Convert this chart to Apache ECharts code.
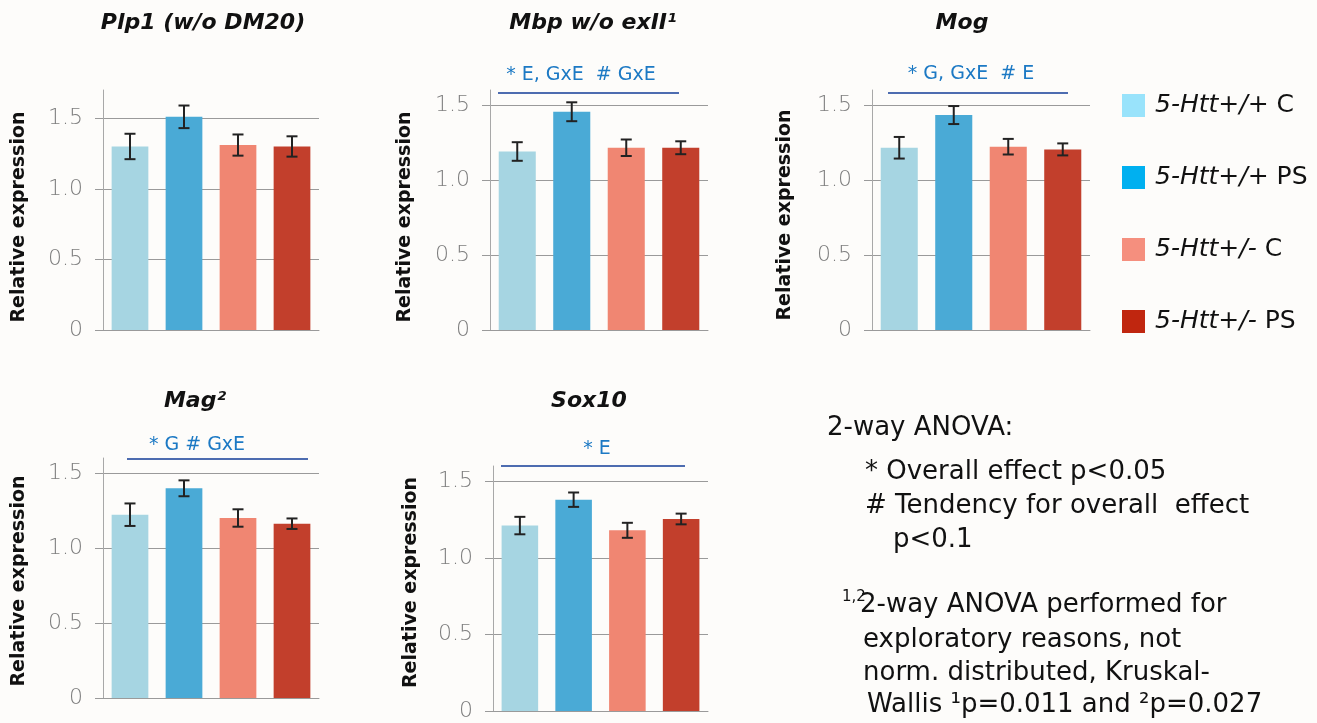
<!DOCTYPE html>
<html>
<head>
<meta charset="utf-8">
<script src="https://cdn.jsdelivr.net/npm/echarts@6/dist/echarts.min.js"></script>
<style>
  html, body { margin: 0; padding: 0; background: #fdfcfa; }
  #main { width: 1317px; height: 723px; }
</style>
</head>
<body>
<div id="main"></div>
<script>
// groups (legend + categories)
const groups = ['5-Htt+/+ C', '5-Htt+/+ PS', '5-Htt+/- C', '5-Htt+/- PS'];
const genes = ['Plp1 (w/o DM20)', 'Mbp w/o exII¹', 'Mog', 'Mag²', 'Sox10'];

// means and error (SEM)
const plp1Mean = [1.30, 1.51, 1.31, 1.30];
const plp1Err = [0.09, 0.08, 0.075, 0.072];
const mbpMean = [1.19, 1.455, 1.215, 1.215];
const mbpErr = [0.062, 0.063, 0.055, 0.043];
const mogMean = [1.215, 1.433, 1.222, 1.204];
const mogErr = [0.072, 0.06, 0.052, 0.04];
const magMean = [1.222, 1.398, 1.20, 1.162];
const magErr = [0.075, 0.053, 0.058, 0.035];
const sox10Mean = [1.211, 1.38, 1.18, 1.254];
const sox10Err = [0.057, 0.047, 0.049, 0.035];

const yTicks = [0, 0.5, 1.0, 1.5];
const yMax = [1.7, 1.6, 1.6, 1.6, 1.6];
const anovaMarks = ['', '* E, GxE  # GxE', '* G, GxE  # E', '* G # GxE', '* E'];

const means = [plp1Mean, mbpMean, mogMean, magMean, sox10Mean];
const errs = [plp1Err, mbpErr, mogErr, magErr, sox10Err];

const barColors = ['#a6d5e2', '#4aaad6', '#f08672', '#c23f2c'];
const legendColors = ['#99e3fb', '#00b0f0', '#f58f7e', '#c0260f'];

// panel layout (px)
const grids = [
  {left: 103, top: 90, width: 216, height: 240},
  {left: 490, top: 90, width: 218, height: 240},
  {left: 872, top: 90, width: 218, height: 240},
  {left: 103, top: 458, width: 216, height: 240},
  {left: 493, top: 466, width: 215, height: 245}
];
const nameGaps = [74, 75, 77, 74, 72];
const namePads = [[0, 14, 0, 0], [0, 14, 0, 0], [0, 10, 0, 0], [0, 6, 0, 0], [0, 0, 0, 12]];
const titlePos = [[203, 23], [593, 23], [962, 23], [195, 401], [589, 401]];
const markPos = [null, [581, 75, 498, 679, 93], [971, 74, 888, 1068, 93], [197, 445, 127, 308, 459], [597, 449, 501, 685, 466]];

const plainFont = '"DejaVu Sans", sans-serif';

let chartDom = document.getElementById('main');
let myChart = echarts.init(chartDom);

let series = [];
let xAxes = [];
let yAxes = [];
let graphics = [];

genes.forEach((gene, k) => {
  xAxes.push({
    type: 'category', gridIndex: k, data: groups,
    axisLabel: {show: false}, axisTick: {show: false},
    axisLine: {show: true, lineStyle: {color: '#9a9a9a', width: 1}}
  });
  yAxes.push({
    type: 'value', gridIndex: k, min: 0, max: yMax[k], interval: 0.5,
    name: 'Relative expression', nameLocation: 'middle', nameGap: nameGaps[k],
    nameTextStyle: {fontFamily: plainFont, fontWeight: 'bold', fontSize: 19, color: '#111',
      padding: namePads[k]},
    axisLine: {show: true, lineStyle: {color: '#a8a8a8', width: 1}},
    axisTick: {show: true, length: 8, customValues: yTicks, lineStyle: {color: '#9a9a9a'}},
    axisLabel: {
      customValues: yTicks, margin: 20, fontFamily: plainFont, fontWeight: 200,
      fontSize: 22, color: '#7e7e7e',
      formatter: v => (yTicks.indexOf(v) < 0 ? '' : (v === 0 ? '0' : v.toFixed(1)))
    },
    splitLine: {show: true, lineStyle: {color: '#9a9a9a', width: 1}}
  });

  groups.forEach((g, j) => {
    series.push({
      name: g, type: 'bar', xAxisIndex: k, yAxisIndex: k,
      barWidth: '68%', barGap: '-100%',
      itemStyle: {color: barColors[j]},
      data: groups.map((_, i) => (i === j ? means[k][i] : '-')),
      silent: true
    });
  });

  series.push({
    type: 'custom', xAxisIndex: k, yAxisIndex: k, z: 10, silent: true,
    data: means[k].map((m, i) => [i, m - errs[k][i], m + errs[k][i]]),
    renderItem: (params, api) => {
      const lo = api.coord([api.value(0), api.value(1)]);
      const hi = api.coord([api.value(0), api.value(2)]);
      const cap = 5.5;
      const st = {stroke: '#222', lineWidth: 2};
      return {
        type: 'group',
        children: [
          {type: 'line', shape: {x1: lo[0], y1: lo[1], x2: hi[0], y2: hi[1]}, style: st},
          {type: 'line', shape: {x1: lo[0] - cap, y1: lo[1], x2: lo[0] + cap, y2: lo[1]}, style: st},
          {type: 'line', shape: {x1: hi[0] - cap, y1: hi[1], x2: hi[0] + cap, y2: hi[1]}, style: st}
        ]
      };
    }
  });

  graphics.push({
    type: 'text', x: titlePos[k][0], y: titlePos[k][1],
    style: {text: gene, align: 'center', verticalAlign: 'middle',
      font: 'italic bold 22px ' + plainFont, fill: '#111'}
  });

  const mp = markPos[k];
  if (mp) {
    graphics.push({
      type: 'text', x: mp[0], y: mp[1],
      style: {text: anovaMarks[k], align: 'center', verticalAlign: 'middle',
        font: '19px ' + plainFont, fill: '#1c79c4'}
    });
    graphics.push({
      type: 'line', shape: {x1: mp[2], y1: mp[4], x2: mp[3], y2: mp[4]},
      style: {stroke: '#4d6cb0', lineWidth: 2}
    });
  }
});

// stats notes on the right
const noteFont = '26px ' + plainFont;
const notes = [
  ['2-way ANOVA:', 827, 428],
  ['* Overall effect p<0.05', 865, 472],
  ['# Tendency for overall  effect', 865, 506],
  ['p<0.1', 893, 540],
  ['2-way ANOVA performed for', 860, 605],
  ['exploratory reasons, not', 863, 640],
  ['norm. distributed, Kruskal-', 863, 673],
  ['Wallis ¹p=0.011 and ²p=0.027', 867, 705]
];
notes.forEach(n => {
  graphics.push({
    type: 'text', x: n[1], y: n[2],
    style: {text: n[0], align: 'left', verticalAlign: 'middle', font: noteFont, fill: '#111'}
  });
});
graphics.push({
  type: 'text', x: 842, y: 597,
  style: {text: '1,2', align: 'left', verticalAlign: 'middle', font: '15px ' + plainFont, fill: '#111'}
});

let option = {
  backgroundColor: '#fdfcfa',
  animation: false,
  grid: grids,
  xAxis: xAxes,
  yAxis: yAxes,
  legend: {
    orient: 'vertical', left: 1122, top: 93, padding: 0,
    itemWidth: 23, itemHeight: 23, itemGap: 47,
    icon: 'rect',
    data: groups.map((g, j) => ({name: g, itemStyle: {color: legendColors[j]}})),
    formatter: name => {
      const parts = name.split(' ');
      return '{i|' + parts[0] + '}{n| ' + parts[1] + '}';
    },
    textStyle: {
      rich: {
        i: {fontFamily: plainFont, fontStyle: 'italic', fontSize: 25, color: '#111',
          lineHeight: 23, padding: [0, 0, 0, 5]},
        n: {fontFamily: plainFont, fontSize: 25, color: '#111', lineHeight: 23}
      }
    },
    selectedMode: false
  },
  graphic: graphics,
  series: series
};
option && myChart.setOption(option);
</script>
</body>
</html>
